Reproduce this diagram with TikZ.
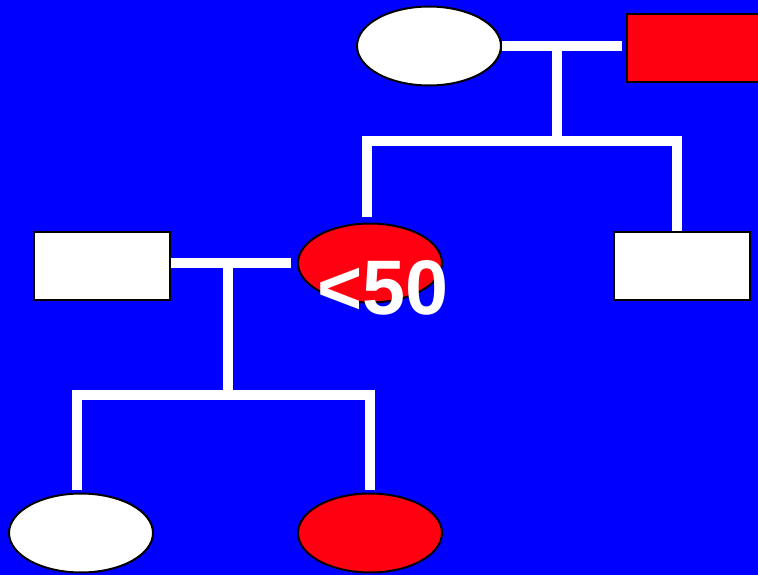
\documentclass[tikz,border=0pt]{standalone}
\usepackage{fontspec}
\setmainfont{Liberation Sans}
\usepackage{tikz}
\usetikzlibrary{positioning,shapes.geometric}
\definecolor{sky}{HTML}{0000FF}
\definecolor{leafred}{HTML}{FF0010}
\begin{document}
\begin{tikzpicture}[x=.02cm,y=-.02cm,
 oval/.style={ellipse,draw=black,line width=.04cm,minimum width=2.88cm,minimum height=1.58cm,inner sep=0pt},
 leaf/.style={rectangle,draw=black,line width=.04cm,minimum width=2.74cm,minimum height=1.36cm,inner sep=0pt},
 bar/.style={white,line width=.2cm}]
\useasboundingbox (0,0) rectangle (758,575);
\clip (0,0) rectangle (758,575);
\fill[sky] (0,0) rectangle (758,575);
% nodes
\node[oval,fill=white] (root) at (429,46) {};
\node[leaf,fill=leafred] (topleaf) at (695,48) {};
\node[oval,fill=leafred] (mid) at (370,263) {};
\node[leaf,fill=white] (lleaf) at (102,266) {};
\node[leaf,fill=white] (rleaf) at (682,266) {};
\node[oval,fill=white] (botl) at (81,533) {};
\node[oval,fill=leafred] (botr) at (370,533) {};
% connectors
\coordinate (j1) at (557,46); \coordinate (s1) at (557,141);
\draw[bar,shorten >=.08cm] (root.east) -- (root.east -| topleaf.west);
\draw[bar] (j1) -- (s1);
\draw[bar,shorten <=.12cm] ([xshift=-.06cm]mid.north) |- (s1) -| ([xshift=-.1cm]rleaf.north);
\coordinate (j2) at (228,263); \coordinate (s2) at (228,395);
\draw[bar,shorten >=.12cm] (mid.west -| lleaf.east) -- (mid.west);
\draw[bar] (j2) -- (s2);
\draw[bar,shorten <=.06cm,shorten >=.06cm] ([xshift=-.08cm]botl.north) |- (s2) -| (botr.north);
\node[text=white,font=\fontsize{44}{44}\selectfont\bfseries,inner sep=0pt] (cut) at (383,288) {<50};
\end{tikzpicture}
\end{document}
